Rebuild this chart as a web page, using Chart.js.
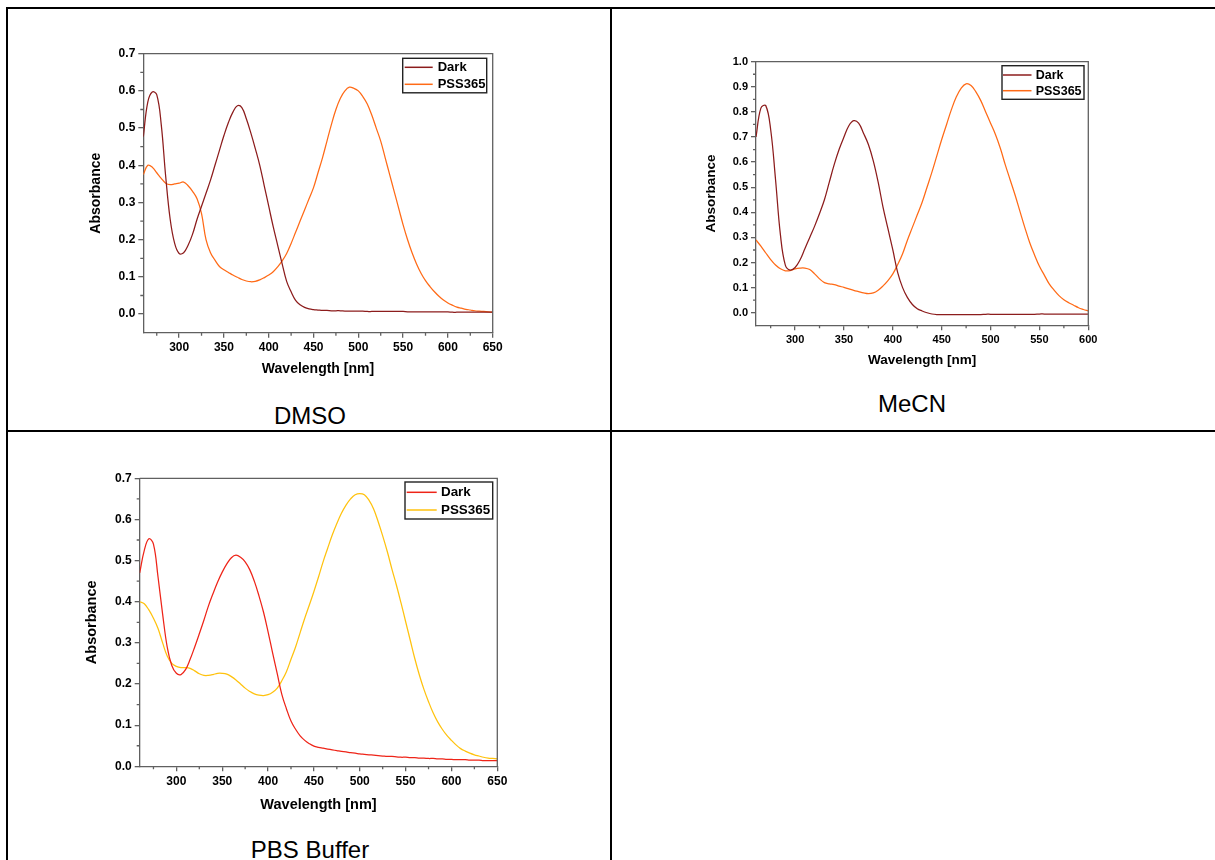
<!DOCTYPE html>
<html>
<head>
<meta charset="utf-8">
<script src="https://cdn.jsdelivr.net/npm/chart.js@4.4.0/dist/chart.umd.min.js"></script>
<style>
  html, body { margin: 0; padding: 0; background: #fff; }
  body { width: 1215px; height: 860px; position: relative; overflow: hidden;
         font-family: "Liberation Sans", Arial, sans-serif; }
  .rule { position: absolute; background: #000; }
  .cap  { position: absolute; width: 300px; text-align: center; font-size: 24px;
          line-height: 1; color: #000; }
  canvas { position: absolute; }
</style>
</head>
<body>
<!-- table grid -->
<div class="rule" style="left:6px;top:7px;width:1209px;height:2px"></div>
<div class="rule" style="left:6px;top:7px;width:2px;height:853px"></div>
<div class="rule" style="left:610px;top:7px;width:2px;height:853px"></div>
<div class="rule" style="left:6px;top:430px;width:1209px;height:2px"></div>

<div class="cap" style="left:160px;top:404px">DMSO</div>
<div class="cap" style="left:762px;top:392px">MeCN</div>
<div class="cap" style="left:160px;top:838px">PBS Buffer</div>

<script>
// ── Data ──────────────────────────────────────────────────

const dmsoNm = [
  260,265,270,275,280,285,290,295,300,305,
  310,315,320,325,330,335,340,345,350,355,
  360,365,370,375,380,385,390,395,400,405,
  410,415,420,425,430,435,440,445,450,455,
  460,465,470,475,480,485,490,495,500,505,
  510,515,520,525,530,535,540,545,550,555,
  560,565,570,575,580,585,590,595,600,605,
  610,615,620,625,630,635,640,645,650];
const dmsoDark = [
  0.477,0.570,0.597,0.590,0.510,0.370,0.255,0.190,0.163,0.165,
  0.185,0.215,0.255,0.290,0.325,0.360,0.400,0.440,0.480,0.515,
  0.543,0.560,0.555,0.525,0.487,0.445,0.400,0.345,0.290,0.235,
  0.185,0.135,0.088,0.060,0.037,0.025,0.018,0.014,0.012,0.011,
  0.010,0.010,0.009,0.009,0.009,0.008,0.008,0.008,0.008,0.008,
  0.007,0.007,0.007,0.007,0.007,0.007,0.007,0.007,0.007,0.006,
  0.006,0.006,0.006,0.006,0.006,0.006,0.006,0.006,0.006,0.005,
  0.005,0.005,0.005,0.005,0.005,0.005,0.005,0.005,0.005];
const dmsoPss = [
  0.375,0.400,0.395,0.380,0.365,0.352,0.348,0.350,0.352,0.355,
  0.345,0.330,0.310,0.270,0.200,0.165,0.145,0.128,0.119,0.112,
  0.105,0.099,0.093,0.089,0.087,0.088,0.092,0.098,0.105,0.114,
  0.127,0.143,0.163,0.190,0.220,0.250,0.280,0.310,0.340,0.380,
  0.420,0.465,0.510,0.550,0.580,0.600,0.610,0.607,0.600,0.585,
  0.565,0.535,0.500,0.465,0.420,0.375,0.330,0.285,0.240,0.200,
  0.165,0.135,0.110,0.090,0.074,0.060,0.048,0.038,0.030,0.024,
  0.019,0.016,0.013,0.011,0.009,0.008,0.007,0.006,0.005];

const mecnNm = [
  260,265,270,275,280,285,290,295,300,305,
  310,315,320,325,330,335,340,345,350,355,
  360,365,370,375,380,385,390,395,400,405,
  410,415,420,425,430,435,440,445,450,455,
  460,465,470,475,480,485,490,495,500,505,
  510,515,520,525,530,535,540,545,550,555,
  560,565,570,575,580,585,590,595,600];
const mecnDark = [
  0.700,0.815,0.825,0.730,0.530,0.310,0.190,0.170,0.180,0.210,
  0.255,0.300,0.345,0.395,0.450,0.520,0.590,0.650,0.700,0.745,
  0.765,0.755,0.715,0.670,0.605,0.520,0.420,0.335,0.250,0.160,
  0.100,0.060,0.033,0.016,0.007,0.000,-0.005,-0.007,-0.007,-0.007,
  -0.007,-0.007,-0.007,-0.007,-0.007,-0.007,-0.007,-0.006,-0.006,-0.006,
  -0.006,-0.006,-0.006,-0.006,-0.006,-0.006,-0.006,-0.006,-0.005,-0.005,
  -0.005,-0.005,-0.005,-0.005,-0.005,-0.005,-0.005,-0.005,-0.005];
const mecnPss = [
  0.290,0.265,0.238,0.212,0.190,0.175,0.167,0.168,0.175,0.178,
  0.178,0.172,0.155,0.135,0.120,0.115,0.112,0.106,0.101,0.095,
  0.089,0.084,0.079,0.076,0.079,0.090,0.107,0.128,0.155,0.192,
  0.235,0.290,0.340,0.390,0.440,0.500,0.560,0.625,0.690,0.750,
  0.810,0.860,0.895,0.912,0.905,0.880,0.845,0.800,0.755,0.710,
  0.655,0.590,0.530,0.470,0.405,0.340,0.280,0.230,0.185,0.150,
  0.115,0.090,0.068,0.052,0.040,0.030,0.020,0.013,0.007];

const pbsNm = [
  260,265,270,275,280,285,290,295,300,305,
  310,315,320,325,330,335,340,345,350,355,
  360,365,370,375,380,385,390,395,400,405,
  410,415,420,425,430,435,440,445,450,455,
  460,465,470,475,480,485,490,495,500,505,
  510,515,520,525,530,535,540,545,550,555,
  560,565,570,575,580,585,590,595,600,605,
  610,615,620,625,630,635,640,645,650];
const pbsDark = [
  0.470,0.525,0.553,0.540,0.460,0.370,0.290,0.245,0.226,0.223,
  0.235,0.260,0.290,0.322,0.355,0.390,0.420,0.448,0.472,0.492,
  0.507,0.513,0.508,0.497,0.478,0.450,0.415,0.375,0.327,0.275,
  0.225,0.175,0.140,0.110,0.090,0.074,0.063,0.055,0.049,0.046,
  0.044,0.042,0.040,0.038,0.036,0.035,0.033,0.032,0.030,0.029,
  0.028,0.027,0.026,0.025,0.024,0.024,0.023,0.022,0.022,0.021,
  0.021,0.020,0.020,0.019,0.019,0.018,0.018,0.017,0.017,0.016,
  0.016,0.016,0.015,0.015,0.015,0.014,0.014,0.014,0.014];
const pbsPss = [
  0.400,0.395,0.380,0.360,0.335,0.300,0.268,0.250,0.243,0.240,
  0.240,0.238,0.232,0.225,0.221,0.221,0.223,0.226,0.226,0.224,
  0.218,0.210,0.200,0.190,0.182,0.176,0.173,0.172,0.174,0.180,
  0.190,0.208,0.230,0.260,0.290,0.325,0.360,0.392,0.425,0.460,
  0.497,0.530,0.562,0.590,0.615,0.635,0.650,0.660,0.663,0.660,
  0.647,0.626,0.595,0.560,0.522,0.480,0.440,0.397,0.352,0.307,
  0.262,0.222,0.187,0.157,0.130,0.108,0.090,0.075,0.063,0.052,
  0.043,0.037,0.032,0.028,0.025,0.022,0.020,0.019,0.018];

const seriesLabels = ['Dark', 'PSS365'];

// ── Styling ───────────────────────────────────────────────

const FONT      = '"Liberation Sans", Arial, sans-serif';
const AXIS_GREY = '#606060';

const pairs = (xs, ys) => xs.map((x, i) => ({ x, y: ys[i] }));

// frame (top/right), minor ticks and a boxed legend inside the plot
const framePlugin = {
  id: 'frame',
  afterDraw(chart, args, o) {
    const { ctx, chartArea: a, scales: { x, y } } = chart;
    ctx.save();

    ctx.strokeStyle = AXIS_GREY;
    ctx.lineWidth   = 1.3;
    ctx.beginPath();
    ctx.moveTo(a.left, a.top);
    ctx.lineTo(a.right, a.top);
    ctx.lineTo(a.right, a.bottom);

    const xStep = x.ticks[1].value - x.ticks[0].value;
    for (let v = x.ticks[0].value - xStep / 2; v < x.max - 1e-9; v += xStep) {
      if (v <= x.min + 1e-9) continue;
      const px = x.getPixelForValue(v);
      ctx.moveTo(px, a.bottom);
      ctx.lineTo(px, a.bottom + 3);
    }
    const yStep = y.ticks[1].value - y.ticks[0].value;
    for (let v = y.ticks[0].value - yStep / 2; v < y.max - 1e-9; v += yStep) {
      if (v <= y.min + 1e-9) continue;
      const py = y.getPixelForValue(v);
      ctx.moveTo(a.left, py);
      ctx.lineTo(a.left - 3, py);
    }
    ctx.stroke();

    // legend
    const L  = o.legend;
    const bx = a.right - L.inset[0] - L.w;
    const by = a.top + L.inset[1];
    ctx.fillStyle = '#fff';
    ctx.fillRect(bx, by, L.w, L.h);
    ctx.strokeStyle = '#222';
    ctx.lineWidth   = 1.4;
    ctx.strokeRect(bx, by, L.w, L.h);
    ctx.font         = `bold ${L.font}px ${FONT}`;
    ctx.textBaseline = 'middle';
    ctx.textAlign    = 'left';
    chart.data.datasets.forEach((ds, i) => {
      const ry = by + L.rows[i];
      ctx.strokeStyle = ds.borderColor;
      ctx.lineWidth   = 1.5;
      ctx.beginPath();
      ctx.moveTo(bx + L.line[0], ry);
      ctx.lineTo(bx + L.line[1], ry);
      ctx.stroke();
      ctx.fillStyle = '#000';
      ctx.fillText(ds.label, bx + L.textX, ry + 0.5);
    });
    ctx.restore();
  }
};

function buildChart(c) {
  const g  = c.geo;
  const cl = Math.round(g.yTitleX - g.title * 0.6);
  const ct = Math.round(g.area.t - 15);
  const cw = Math.round(g.area.r + 15 - cl);
  const ch = Math.round(g.xTitleY + g.title * 0.6 - ct);

  const cv = document.createElement('canvas');
  cv.width  = cw;
  cv.height = ch;
  cv.style.left = cl + 'px';
  cv.style.top  = ct + 'px';
  document.body.appendChild(cv);

  const yW = g.area.l - cl;
  const xH = ct + ch - g.area.b;
  const tickFont  = { family: FONT, size: g.tick, weight: 'bold' };
  const titleFont = { family: FONT, size: g.title, weight: 'bold' };

  const line = (label, ys, color) => ({
    label, data: pairs(c.nm, ys),
    borderColor: color, backgroundColor: color,
    borderWidth: 1.25, pointRadius: 0, tension: 0.4, fill: false,
  });

  new Chart(cv, {
    type: 'line',
    data: { datasets: [
      line(seriesLabels[0], c.dark, c.colors[0]),
      line(seriesLabels[1], c.pss,  c.colors[1]),
    ]},
    options: {
      responsive: false, animation: false, events: [],
      layout: { padding: { top: g.area.t - ct, right: cl + cw - g.area.r, left: 0, bottom: 0 } },
      plugins: {
        legend:  { display: false },
        tooltip: { enabled: false },
        frame:   { legend: g.legend },
      },
      scales: {
        x: {
          type: 'linear', min: c.xMin, max: c.xMax,
          afterFit: s => { s.height = xH; },
          ticks:  { stepSize: 50, includeBounds: false, autoSkip: false, maxRotation: 0,
                    padding: 3, color: '#000', font: tickFont },
          grid:   { drawOnChartArea: false, tickLength: 5, color: AXIS_GREY, lineWidth: 1.3 },
          border: { color: AXIS_GREY, width: 1.3 },
          title:  { display: true, text: 'Wavelength [nm]', padding: 0, color: '#000', font: titleFont },
        },
        y: {
          min: c.yMin, max: c.yMax,
          afterFit: s => { s.width = yW; },
          ticks:  { stepSize: 0.1, includeBounds: false, padding: 3, color: '#000', font: tickFont,
                    callback: v => v.toFixed(1) },
          grid:   { drawOnChartArea: false, tickLength: 5, color: AXIS_GREY, lineWidth: 1.3 },
          border: { color: AXIS_GREY, width: 1.3 },
          title:  { display: true, text: 'Absorbance', padding: 0, color: '#000', font: titleFont },
        },
      },
    },
    plugins: [framePlugin],
  });
}

buildChart({
  nm: dmsoNm, dark: dmsoDark, pss: dmsoPss, colors: ['#8c1c1c', '#ff6a16'],
  xMin: 260, xMax: 650, yMin: -0.05, yMax: 0.7,
  geo: {
    area: { l: 143.3, t: 53.7, r: 492.7, b: 332.7 }, yTitleX: 96.7, xTitleY: 370,
    title: 14, tick: 12,
    legend: { w: 84, h: 34.5, inset: [6, 4.6], rows: [9, 26], line: [2, 30], textX: 35, font: 13 },
  },
});

buildChart({
  nm: mecnNm, dark: mecnDark, pss: mecnPss, colors: ['#8c1c1c', '#ff6a16'],
  xMin: 260, xMax: 600, yMin: -0.05, yMax: 1.0,
  geo: {
    area: { l: 756, t: 61.7, r: 1088.3, b: 325.3 }, yTitleX: 710.7, xTitleY: 360,
    title: 13.5, tick: 11,
    legend: { w: 82, h: 33.6, inset: [4.3, 4], rows: [9.3, 25], line: [1, 29.5], textX: 33.7, font: 12.5 },
  },
});

buildChart({
  nm: pbsNm, dark: pbsDark, pss: pbsPss, colors: ['#ee2418', '#ffc20e'],
  xMin: 260, xMax: 650, yMin: 0, yMax: 0.7,
  geo: {
    area: { l: 139.7, t: 478.3, r: 497.3, b: 766.3 }, yTitleX: 91.7, xTitleY: 805,
    title: 14.5, tick: 12,
    legend: { w: 87.7, h: 37, inset: [4.6, 3.7], rows: [10.3, 28], line: [1.7, 31.7], textX: 36, font: 13.4 },
  },
});
</script>
</body>
</html>
